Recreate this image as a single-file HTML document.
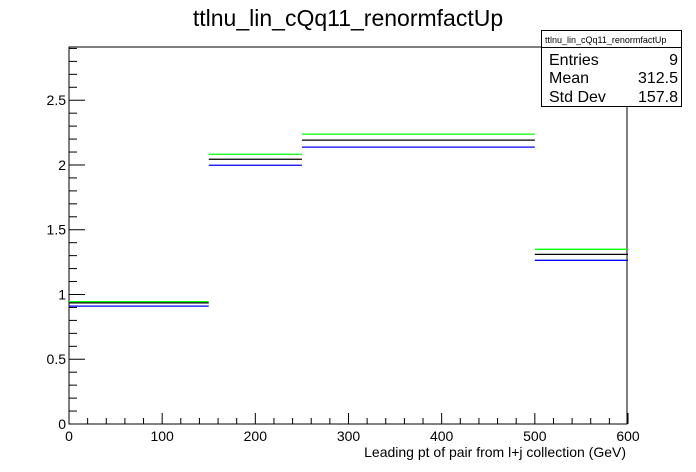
<!DOCTYPE html>
<html><head><meta charset="utf-8"><style>
body{margin:0;background:#fff;}
svg{display:block;font-family:"Liberation Sans",Arial,sans-serif;}
</style></head><body>
<svg id="c" width="696" height="472">
<rect x="0" y="0" width="696" height="472" fill="#fff"/>
<text x="348" y="26" font-size="23" text-anchor="middle">ttlnu_lin_cQq11_renormfactUp</text>
<rect x="69" y="47" width="558" height="377" fill="none" stroke="#000"/>
<g id="ticks"></g>
<g id="marks"></g>
<text x="626" y="457" font-size="14" text-anchor="end">Leading pt of pair from l+j collection (GeV)</text>
<g>
<rect x="541.5" y="30.5" width="140" height="76" fill="#fff" stroke="#000"/>
<line x1="541.5" y1="47.5" x2="681.5" y2="47.5" stroke="#000"/>
<text x="545" y="43" font-size="9">ttlnu_lin_cQq11_renormfactUp</text>
<text x="549" y="65" font-size="16">Entries</text><text x="678" y="65" font-size="16" text-anchor="end">9</text>
<text x="549" y="83" font-size="16">Mean</text><text x="678" y="83" font-size="16" text-anchor="end">312.5</text>
<text x="549" y="102" font-size="16">Std Dev</text><text x="678" y="102" font-size="16" text-anchor="end">157.8</text>
</g>
</svg>
<script>
const binEdges=[0,150,250,500,600];
const seriesGreen=[0.945,2.083,2.238,1.349];
const seriesBlack=[0.935,2.044,2.192,1.310];
const seriesBlue=[0.91,1.998,2.138,1.264];
const xTicks=[0,100,200,300,400,500,600];
const yTicks=[0,0.5,1,1.5,2,2.5];
const yTickLabels=["0","0.5","1","1.5","2","2.5"];
const NS="http://www.w3.org/2000/svg";
const X0=69,X1=628,Y0=424,YT=47,XMAX=600,YMAX=2.911;
function xs(v){return X0+(X1-X0)*v/XMAX;}
function ys(v){return Y0-(Y0-YT)*v/YMAX;}
function mk(p,tag,a){const e=document.createElementNS(NS,tag);for(const k in a)e.setAttribute(k,a[k]);p.appendChild(e);return e;}
const T=document.getElementById('ticks');
for(let v=0;v<=600;v+=20){
 const major=v%100===0;
 const l=mk(T,'line',{x1:xs(v),x2:xs(v),y1:Y0,y2:Y0-(major?11:6),stroke:'#000'});
 
 
}
xTicks.forEach(v=>{const t=mk(T,'text',{x:xs(v),y:Y0+17,'font-size':14,'text-anchor':'middle'});t.textContent=v;
 
 });
for(let i=0;i<=29;i++){
 const v=i/10,major=i%5===0;
 const l=mk(T,'line',{x1:X0,x2:X0+(major?16:8),y1:ys(v),y2:ys(v),stroke:'#000'});
 
 
}
yTicks.forEach((v,i)=>{const t=mk(T,'text',{x:X0-3,y:ys(v)+5,'font-size':14,'text-anchor':'end'});t.textContent=yTickLabels[i];
 
 });
const M=document.getElementById('marks');
[[seriesGreen,'#00ff00'],[seriesBlack,'#000'],[seriesBlue,'#0000ff']].forEach(([s,c])=>{
 s.forEach((v,i)=>{
  const l=mk(M,'line',{x1:xs(binEdges[i]),x2:xs(binEdges[i+1]),y1:ys(v),y2:ys(v),stroke:c,'stroke-width':1.3});
  
  
 });
});
</script>
</body></html>
